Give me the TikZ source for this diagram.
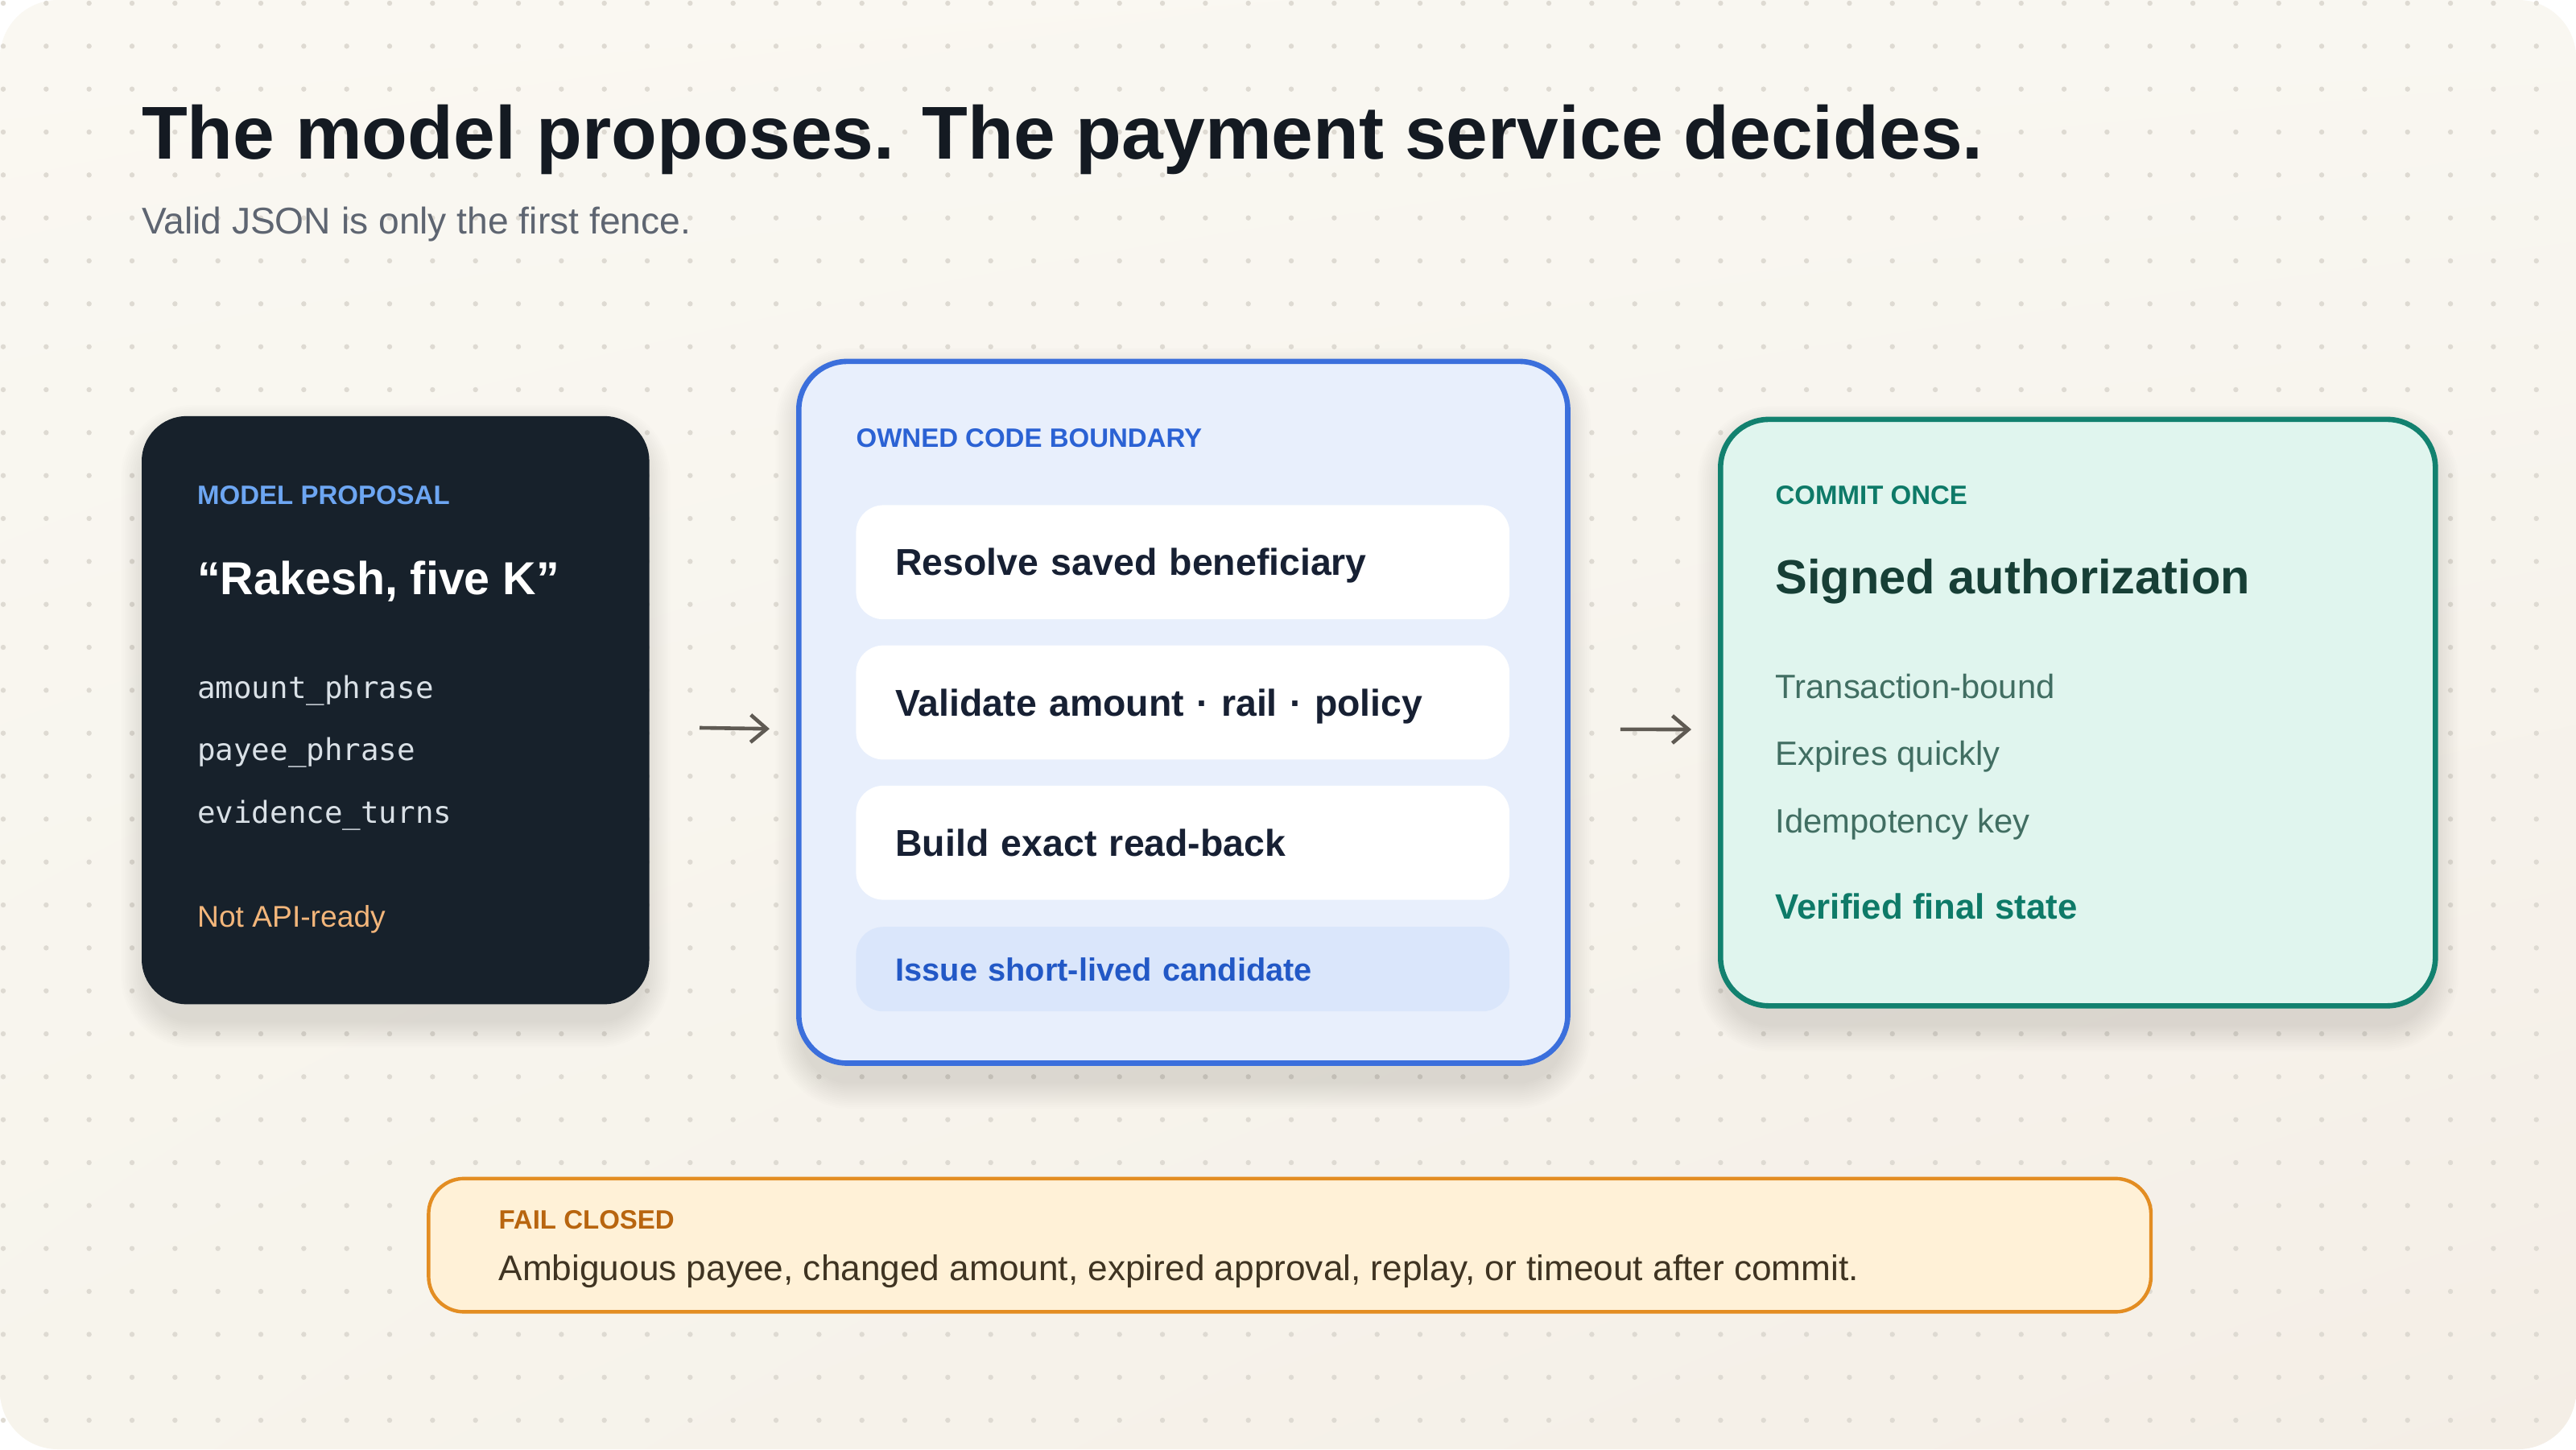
\documentclass[tikz,border=0pt]{standalone}
\usepackage{fontspec}
\setmainfont{Liberation Sans}
\setmonofont{DejaVu Sans Mono}
\usepackage{tikz}
\usetikzlibrary{positioning,arrows.meta,shadings}
\pgfdeclarelayer{backdrop}
\pgfdeclarelayer{shadowlayer}
\pgfsetlayers{backdrop,shadowlayer,main}
\definecolor{pagetl}{HTML}{FAF8F2}
\definecolor{pagetr}{HTML}{F9F7F1}
\definecolor{pagebl}{HTML}{F7F4EC}
\definecolor{pagebr}{HTML}{F4EEE6}
\definecolor{dotgray}{HTML}{DEDAD2}
\definecolor{inkdark}{HTML}{141A22}
\definecolor{subgray}{HTML}{5E6571}
\definecolor{cardink}{HTML}{17212B}
\definecolor{propblue}{HTML}{6DA6F2}
\definecolor{monogray}{HTML}{D9E0E6}
\definecolor{notready}{HTML}{F3B67B}
\definecolor{arrowgray}{HTML}{5F5A53}
\definecolor{bndfill}{HTML}{E8EFFC}
\definecolor{bndline}{HTML}{3B6FDC}
\definecolor{bndlabel}{HTML}{2B62D4}
\definecolor{stepink}{HTML}{172033}
\definecolor{issuefill}{HTML}{DAE6FB}
\definecolor{issueink}{HTML}{2258C6}
\definecolor{commitfill}{HTML}{E0F5EE}
\definecolor{commitline}{HTML}{12816F}
\definecolor{commitlabel}{HTML}{0E7A68}
\definecolor{commitlead}{HTML}{173F36}
\definecolor{commitbody}{HTML}{416E62}
\definecolor{failfill}{HTML}{FFF1D7}
\definecolor{failline}{HTML}{E38D22}
\definecolor{faillabel}{HTML}{B8650F}
\definecolor{failbody}{HTML}{3F3422}
\newcommand{\dropshadow}[2]{\foreach \k in {1,...,14}{%
\pgfmathsetmacro{\dxa}{4-1.2*\k}\pgfmathsetmacro{\dya}{-10+1.2*\k}\pgfmathsetmacro{\dyb}{-10-1.2*\k}\pgfmathsetmacro{\rad}{#2+1.2*\k}%
\fill[black,opacity=0.008,rounded corners=\rad pt] ([xshift=\dxa pt,yshift=\dya pt]#1.north west) rectangle ([xshift=-\dxa pt,yshift=\dyb pt]#1.south east);}}
\tikzset{panel/.style={rounded corners=30pt,inner sep=0pt,anchor=north west},
txt/.style={anchor=base west,inner sep=0pt},
tag/.style={txt,font=\fontsize{16.5}{20}\selectfont\bfseries},
field/.style={txt,text=monogray,font=\fontsize{18.75}{22}\selectfont\ttfamily},
stepbox/.style={rounded corners=17pt,fill=white,minimum width=405.9pt,minimum height=70.9pt,
text width=356.9pt,inner xsep=24.5pt,inner ysep=0pt,align=left,text height=16.6pt,text depth=0pt,
text=stepink,font=\fontsize{23.2}{27}\selectfont\bfseries,anchor=north west},
flow/.style={draw=arrowgray,line width=2.3pt,-{Straight Barb[length=10pt,width=17pt]},shorten <=31pt,shorten >=16.5pt}}
\begin{document}
\begin{tikzpicture}[x=1pt,y=1pt]
	\useasboundingbox (0,0) rectangle (1600,-900);
	\begin{pgfonlayer}{backdrop}
		\fill[white] (0,0) rectangle (1600,-900);
		\shade[rounded corners=36pt,upper left=pagetl,upper right=pagetr,lower left=pagebl,lower right=pagebr] (0,0) rectangle (1600,-900);
		\foreach \i in {0,...,59}
			\foreach \j in {0,...,33}
				\fill[dotgray] (2+26.667*\i,-2-26.667*\j) circle (1.6pt);
	\end{pgfonlayer}

	\node[txt,text=inkdark,font=\fontsize{46.5}{56}\selectfont\bfseries] (headline) at (87.8,-98.5) {The model proposes. The payment service decides.};
	\node[txt,text=subgray,font=\fontsize{23.1}{28}\selectfont] (subline) at (87.8,-145) {Valid JSON is only the first fence.};

	\node[panel,rounded corners=28pt,fill=cardink,minimum width=315.3pt,minimum height=365.3pt] (proposal) at (87.8,-258.2) {};
	\node[tag,text=propblue] (proposaltag) at (122.4,-313.3) {MODEL PROPOSAL};
	\node[txt,text=white,font=\fontsize{28.7}{34}\selectfont\bfseries] (utterance) at (122.4,-369) {“Rakesh, five K”};
	\node[field] (amountf) at (122.4,-433.5) {amount\_phrase};
	\node[field] (payeef) at (122.4,-472.3) {payee\_phrase};
	\node[field] (evidencef) at (122.4,-511) {evidence\_turns};
	\node[txt,text=notready,font=\fontsize{18.6}{22}\selectfont] (notready) at (122.4,-575.5) {Not API-ready};

	\node[panel,fill=bndfill,draw=bndline,line width=3.3pt,minimum width=477.6pt,minimum height=435.8pt] (boundary) at (494.5,-222.8) {};
	\node[tag,text=bndlabel] (boundarytag) at (531.6,-277.8) {OWNED CODE BOUNDARY};
	\node[stepbox] (resolve) at (531.5,-313.5) {Resolve saved beneficiary};
	\node[stepbox,below=15.8pt of resolve] (validate) {Validate amount · rail · policy};
	\node[stepbox,below=15.8pt of validate] (readback) {Build exact read-back};
	\node[stepbox,below=16.4pt of readback,fill=issuefill,minimum height=52.5pt,text height=14.3pt,text=issueink,font=\fontsize{19.9}{24}\selectfont\bfseries] (issue) {Issue short-lived candidate};

	\node[panel,fill=commitfill,draw=commitline,line width=3.3pt,minimum width=444pt,minimum height=364.2pt] (commit) at (1067,-258.8) {};
	\node[tag,text=commitlabel] (committag) at (1102.6,-313.4) {COMMIT ONCE};
	\node[txt,text=commitlead,font=\fontsize{29.8}{35}\selectfont\bfseries] (signed) at (1102.6,-368.9) {Signed authorization};
	\node[txt,text=commitbody,font=\fontsize{20.9}{25}\selectfont] (txbound) at (1102.6,-433.6) {Transaction-bound};
	\node[txt,text=commitbody,font=\fontsize{20.9}{25}\selectfont] (expires) at (1102.6,-475) {Expires quickly};
	\node[txt,text=commitbody,font=\fontsize{20.9}{25}\selectfont] (idemkey) at (1102.6,-517.4) {Idempotency key};
	\node[txt,text=commitlabel,font=\fontsize{21.9}{26}\selectfont\bfseries] (verified) at (1102.6,-570.9) {Verified final state};

	\node[panel,rounded corners=22pt,fill=failfill,draw=failline,line width=2.2pt,minimum width=1069.8pt,minimum height=82.8pt] (failbox) at (265.1,-730.8) {};
	\node[tag,text=faillabel] (failtag) at (309.6,-763) {FAIL CLOSED};
	\node[txt,text=failbody,font=\fontsize{22.1}{26}\selectfont] (failcases) at (309.6,-795.3) {Ambiguous payee, changed amount, expired approval, replay, or timeout after commit.};

	\begin{pgfonlayer}{shadowlayer}
		\dropshadow{proposal}{28}
		\dropshadow{boundary}{30}
		\dropshadow{commit}{30}
	\end{pgfonlayer}

	\draw[flow] ([yshift=-10.5pt]proposal.east) -- ([yshift=-10.5pt]boundary.west);
	\draw[flow] ([yshift=-10.5pt]boundary.east) -- ([yshift=-10.5pt]commit.west);
\end{tikzpicture}
\end{document}
